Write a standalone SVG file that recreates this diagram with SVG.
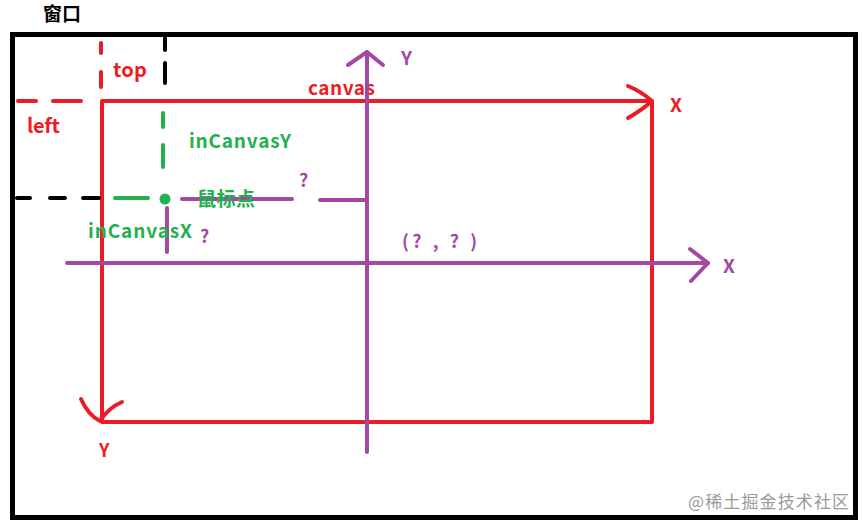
<svg xmlns="http://www.w3.org/2000/svg" width="867" height="530" viewBox="0 0 867 530">
<style>
.t{font-family:"Noto Sans CJK SC","Liberation Sans",sans-serif;font-weight:bold;}
.red{stroke:#ed1c24;fill:none;stroke-width:4;stroke-linecap:round;stroke-linejoin:round;}
.pur{stroke:#a349a4;fill:none;stroke-width:4;stroke-linecap:round;stroke-linejoin:round;}
.grn{stroke:#22b14c;fill:none;stroke-width:4;stroke-linecap:round;}
.blk{stroke:#000;fill:none;stroke-width:4;stroke-linecap:round;}
.rt{fill:#ed1c24;}
.pt{fill:#a349a4;}
.gt{fill:#22b14c;}
</style>
<rect x="0" y="0" width="867" height="530" fill="#fff"/>
<g id="window">
<rect x="12.5" y="34.5" width="843" height="483" fill="none" stroke="#000" stroke-width="5"/>
<text class="t" x="43" y="21" font-size="19" fill="#000">窗口</text>
</g>
<g id="canvas">
<path class="red" d="M102 422 V101 H652 V422 Z"/>
<text class="t rt" x="308" y="95" font-size="19" textLength="67">canvas</text>
</g>
<g id="connectors">
<!-- red axis arrowheads -->
<path class="red" d="M628 86 Q642 92 652 101 Q642 110 628 118"/>
<path class="red" d="M81 399 Q88 415 100 421 Q108 408 122 402"/>
<!-- red dashed left/top -->
<path class="red" d="M18 101 H36 M53 101 H81 M101 43 V53 M101 72 V87"/>
<!-- black dashed -->
<path class="blk" d="M165 38 V50 M165 63 V83 M17 198 H30 M50 198 H65 M83 198 H99"/>
<!-- green dashed -->
<path class="grn" d="M163 113 V127 M163 145 V167 M115 198 H148"/>
<circle cx="165" cy="199" r="5.5" fill="#22b14c"/>
<!-- purple axes -->
<path class="pur" d="M367 452 V52"/>
<path class="pur" d="M348 65 L367 52 L383 65"/>
<path class="pur" d="M67 263 H708"/>
<path class="pur" d="M690 249 L708 263 L691 281"/>
<!-- purple guides -->
<path class="pur" d="M182 199 H292 M320 200 H367"/>
<path class="pur" d="M167 208 V252"/>
</g>
<g id="labels">
<text class="t rt" x="113" y="77" font-size="20" textLength="34">top</text>
<text class="t rt" x="27" y="133" font-size="20" textLength="33">left</text>
<text class="t gt" x="189" y="148" font-size="19" textLength="102">inCanvasY</text>
<text class="t gt" x="197" y="206" font-size="19" textLength="58">鼠标点</text>
<text class="t gt" x="88" y="238" font-size="19" textLength="104">inCanvasX</text>
<text class="t pt" x="299" y="187" font-size="18">?</text>
<text class="t pt" x="200" y="243" font-size="18">?</text>
<text class="t pt" x="402" y="248" font-size="18" textLength="75">(? , ? )</text>
<text class="t pt" x="401" y="65" font-size="19">Y</text>
<text class="t rt" x="670" y="112" font-size="19">X</text>
<text class="t pt" x="723" y="273" font-size="19">X</text>
<text class="t rt" x="99" y="457" font-size="18">Y</text>
<text x="688" y="508" font-size="17" fill="#9a9a9a" font-family="Noto Sans CJK SC, sans-serif" textLength="161">@稀土掘金技术社区</text>
</g>
</svg>
